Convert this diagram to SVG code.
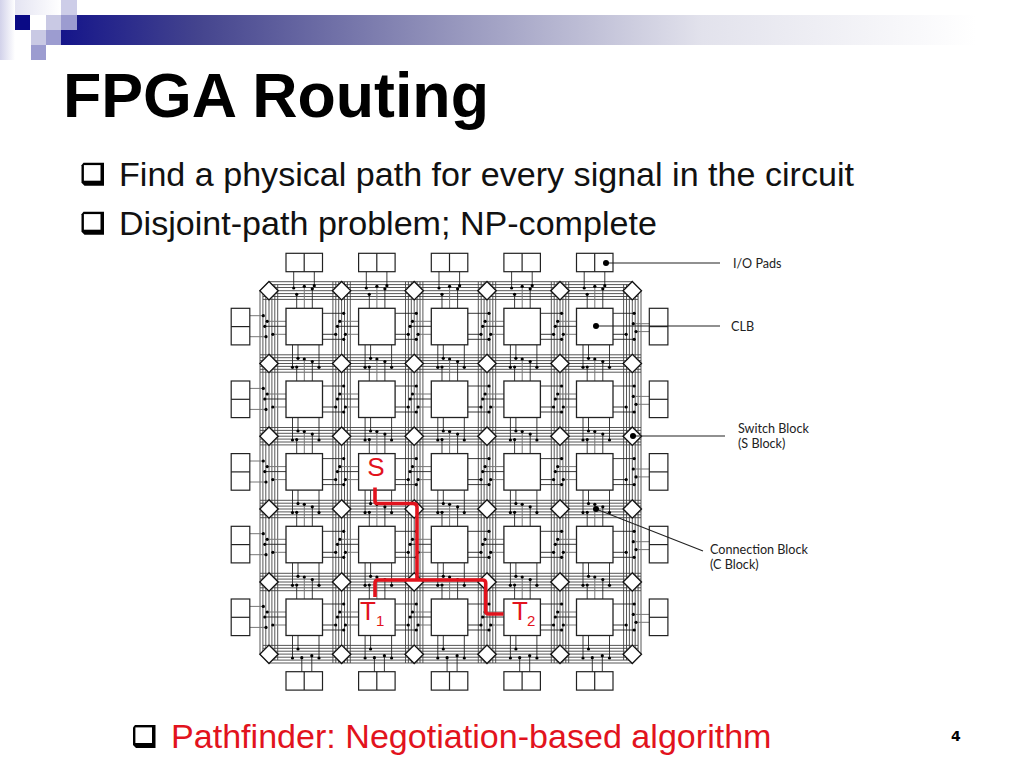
<svg xmlns="http://www.w3.org/2000/svg" width="1024" height="768" viewBox="0 0 1024 768">
<style>
text{font-family:"Liberation Sans",Arial,sans-serif}
.title{font-size:62.7px;font-weight:bold;fill:#000}
.body{font-size:34.1px;fill:#111}
.red{fill:#e2131d}
.lab{font-family:Lato,"Open Sans",sans-serif;font-size:12.6px;fill:#222}
.box{fill:#fff;stroke:#222;stroke-width:1.3}
.pad{fill:#fff;stroke:#222;stroke-width:1.2}
.dia{fill:#fff;stroke:#111;stroke-width:1.3}
.tr{fill:none;stroke:#444;stroke-width:.9}
.st{fill:none;stroke:#222;stroke-width:.9}
.gs{fill:none;stroke:#777;stroke-width:1}
.lead{fill:none;stroke:#222;stroke-width:1.1}
.route{fill:none;stroke:#e2131d;stroke-width:3.6;stroke-linejoin:round;stroke-linecap:butt}
</style>
<defs>
<linearGradient id="bar"><stop offset="0" stop-color="#15158a"/><stop offset=".15" stop-color="#44448e"/><stop offset=".4" stop-color="#8e8eb8"/><stop offset=".7" stop-color="#e2e2ec"/><stop offset="1" stop-color="#fff"/></linearGradient>
<linearGradient id="side" x1="0" y1="0" x2="1" y2="0"><stop offset="0" stop-color="#d2d2ea"/><stop offset="1" stop-color="#fff"/></linearGradient>
<linearGradient id="topf" x1="0" y1="0" x2="1" y2="0"><stop offset="0" stop-color="#e4e4f2"/><stop offset="1" stop-color="#fff"/></linearGradient>
<g id="bul"><path d="M0 2.5L2 0H22.5V23H3L0 20Z" fill="#000"/><rect x="2.4" y="2.4" width="16.6" height="15.6" fill="#fff"/></g>
<g id="hch" class="tr"><path d="M260 0H641M260 -8.7H641M260 -5.8H641M260 -2.9H641M260 2.9H641M260 5.8H641M260 8.7H641"/></g>
<g id="vch" class="tr"><path d="M0 281.7V663M-8.7 281.7V663M-5.8 281.7V663M-2.9 281.7V663M2.9 281.7V663M5.8 281.7V663M8.7 281.7V663"/></g>
<circle id="d" r="1.6" fill="#000"/>
<g id="stubs">
<path class="st" d="M10.7 0V-14M26.3 0V-19.5M6.5 36.5V59M12 36.5V50M33 36.5V59M36.5 5H57.7M36.5 31H57.7M36.5 26H49.7M0 18H-21.2"/>
<path class="gs" d="M18.3 0V-22M0 13H-18.8M0 26H-13.2"/>
<use href="#d" x="10.7" y="-14"/><use href="#d" x="18.3" y="-22"/><use href="#d" x="26.3" y="-19.5"/>
<use href="#d" x="6.5" y="59"/><use href="#d" x="12" y="50"/><use href="#d" x="33" y="59"/>
<use href="#d" x="57.7" y="5"/><use href="#d" x="57.7" y="31"/><use href="#d" x="49.7" y="26"/>
<use href="#d" x="-18.8" y="13"/><use href="#d" x="-21.2" y="18"/><use href="#d" x="-13.2" y="26"/>
</g>
<g id="pT" ><path class="st" d="M7.7 253.3V288M28.3 253.3V285.7"/><use href="#d" x="7.7" y="288"/><use href="#d" x="28.3" y="285.7"/></g>
<g id="pB"><path class="st" d="M15.8 672V657.7M25.8 672V655.7"/><use href="#d" x="15.8" y="657.7"/><use href="#d" x="25.8" y="655.7"/></g>
<g id="pL"><path class="gs" d="M250 7.4H263.3M250 28.4H266"/><use href="#d" x="263.3" y="7.4"/><use href="#d" x="266" y="28.4"/></g>
<g id="pR"><path class="gs" d="M650 15.4H633.3M650 23.3H636"/><use href="#d" x="633.3" y="15.4"/><use href="#d" x="636" y="23.3"/></g>
<rect id="clb" class="box" width="36.5" height="36.5"/>
<path id="dm" class="dia" d="M0 -9.2L9.2 0L0 9.2L-9.2 0Z"/>
<g id="ph"><rect class="pad" width="36.5" height="18.4"/><path class="pad" d="M18.2 0V18.4"/></g>
<g id="pv"><rect class="pad" width="18.6" height="36.6"/><path class="pad" d="M0 18.3H18.6"/></g>
</defs>
<rect width="1024" height="768" fill="#fff"/>
<g id="header">
<rect x="0" y="0" width="15" height="60" fill="url(#side)"/>
<rect x="15" y="0" width="46" height="15" fill="url(#topf)"/>
<rect x="61" y="15" width="915" height="30" fill="url(#bar)"/>
<rect x="15" y="15" width="15" height="15" fill="#0a0a85"/>
<rect x="46" y="15" width="15" height="15" fill="#c9c9e4"/>
<rect x="61" y="0" width="16" height="15" fill="#cdcde8"/>
<rect x="61" y="15" width="16" height="15" fill="#9c9cd0"/>
<rect x="31" y="30" width="15" height="15" fill="#c9c9e4"/>
<rect x="46" y="30" width="15" height="15" fill="#9c9cd0"/>
<rect x="31" y="45" width="15" height="15" fill="#9c9cd0"/>
</g>
<text class="title" x="63" y="117">FPGA Routing</text>
<use href="#bul" x="81.5" y="162.7"/>
<text class="body" x="119" y="186">Find a physical path for every signal in the circuit</text>
<use href="#bul" x="81.5" y="211.7"/>
<text class="body" x="119" y="235">Disjoint-path problem; NP-complete</text>
<g id="connectors">
<path class="tr" d="M269 281.7H632L641 290.7V654L632 663H269L260 654V290.7Z"/>
<path class="tr" d="M269 284.6H632L638.1 290.7V654L632 660.1H269L262.9 654V290.7Z"/>
<path class="tr" d="M269 287.5H632L635.2 290.7V654L632 657.2H269L265.8 654V290.7Z"/>
<path class="tr" d="M262.9 290.7H638.1M262.9 293.6H638.1M262.9 296.5H638.1M262.9 299.4H638.1M262.9 645.4H638.1M262.9 648.3H638.1M262.9 651.2H638.1M262.9 654.1H638.1"/>
<path class="tr" d="M269 284.6V660M271.9 284.6V660M274.8 284.6V660M277.7 284.6V660M623.6 284.6V660M626.5 284.6V660M629.4 284.6V660M632.3 284.6V660"/>
<use href="#hch" y="363.5"/><use href="#hch" y="436.2"/><use href="#hch" y="509"/><use href="#hch" y="582"/>
<use href="#vch" x="341.6"/><use href="#vch" x="414.2"/><use href="#vch" x="487"/><use href="#vch" x="560"/>
<use href="#stubs" x="286" y="308.3"/><use href="#stubs" x="358.6" y="308.3"/><use href="#stubs" x="431.3" y="308.3"/><use href="#stubs" x="503.9" y="308.3"/><use href="#stubs" x="576.5" y="308.3"/>
<use href="#stubs" x="286" y="381"/><use href="#stubs" x="358.6" y="381"/><use href="#stubs" x="431.3" y="381"/><use href="#stubs" x="503.9" y="381"/><use href="#stubs" x="576.5" y="381"/>
<use href="#stubs" x="286" y="453.6"/><use href="#stubs" x="358.6" y="453.6"/><use href="#stubs" x="431.3" y="453.6"/><use href="#stubs" x="503.9" y="453.6"/><use href="#stubs" x="576.5" y="453.6"/>
<use href="#stubs" x="286" y="526.3"/><use href="#stubs" x="358.6" y="526.3"/><use href="#stubs" x="431.3" y="526.3"/><use href="#stubs" x="503.9" y="526.3"/><use href="#stubs" x="576.5" y="526.3"/>
<use href="#stubs" x="286" y="599"/><use href="#stubs" x="358.6" y="599"/><use href="#stubs" x="431.3" y="599"/><use href="#stubs" x="503.9" y="599"/><use href="#stubs" x="576.5" y="599"/>
<use href="#pT" x="286"/><use href="#pT" x="358.6"/><use href="#pT" x="431.3"/><use href="#pT" x="503.9"/><use href="#pT" x="576.5"/>
<use href="#pB" x="286"/><use href="#pB" x="358.6"/><use href="#pB" x="431.3"/><use href="#pB" x="503.9"/><use href="#pB" x="576.5"/>
<use href="#pL" y="308.3"/><use href="#pL" y="381"/><use href="#pL" y="453.6"/><use href="#pL" y="526.3"/><use href="#pL" y="599"/>
<use href="#pR" y="308.3"/><use href="#pR" y="381"/><use href="#pR" y="453.6"/><use href="#pR" y="526.3"/><use href="#pR" y="599"/>
</g>
<g id="clbs">
<g id="clb-1-1"><use href="#clb" x="286" y="308.3"/></g><g id="clb-1-2"><use href="#clb" x="358.6" y="308.3"/></g><g id="clb-1-3"><use href="#clb" x="431.3" y="308.3"/></g><g id="clb-1-4"><use href="#clb" x="503.9" y="308.3"/></g><g id="clb-1-5"><use href="#clb" x="576.5" y="308.3"/></g>
<g id="clb-2-1"><use href="#clb" x="286" y="381"/></g><g id="clb-2-2"><use href="#clb" x="358.6" y="381"/></g><g id="clb-2-3"><use href="#clb" x="431.3" y="381"/></g><g id="clb-2-4"><use href="#clb" x="503.9" y="381"/></g><g id="clb-2-5"><use href="#clb" x="576.5" y="381"/></g>
<g id="clb-3-1"><use href="#clb" x="286" y="453.6"/></g><g id="clb-3-2"><use href="#clb" x="358.6" y="453.6"/></g><g id="clb-3-3"><use href="#clb" x="431.3" y="453.6"/></g><g id="clb-3-4"><use href="#clb" x="503.9" y="453.6"/></g><g id="clb-3-5"><use href="#clb" x="576.5" y="453.6"/></g>
<g id="clb-4-1"><use href="#clb" x="286" y="526.3"/></g><g id="clb-4-2"><use href="#clb" x="358.6" y="526.3"/></g><g id="clb-4-3"><use href="#clb" x="431.3" y="526.3"/></g><g id="clb-4-4"><use href="#clb" x="503.9" y="526.3"/></g><g id="clb-4-5"><use href="#clb" x="576.5" y="526.3"/></g>
<g id="clb-5-1"><use href="#clb" x="286" y="599"/></g><g id="clb-5-2"><use href="#clb" x="358.6" y="599"/></g><g id="clb-5-3"><use href="#clb" x="431.3" y="599"/></g><g id="clb-5-4"><use href="#clb" x="503.9" y="599"/></g><g id="clb-5-5"><use href="#clb" x="576.5" y="599"/></g>
</g>
<g id="switches">
<g id="sw-1-1"><use href="#dm" x="269" y="290.7"/></g><g id="sw-1-2"><use href="#dm" x="341.6" y="290.7"/></g><g id="sw-1-3"><use href="#dm" x="414.2" y="290.7"/></g><g id="sw-1-4"><use href="#dm" x="487" y="290.7"/></g><g id="sw-1-5"><use href="#dm" x="560" y="290.7"/></g><g id="sw-1-6"><use href="#dm" x="632.3" y="290.7"/></g>
<g id="sw-2-1"><use href="#dm" x="269" y="363.5"/></g><g id="sw-2-2"><use href="#dm" x="341.6" y="363.5"/></g><g id="sw-2-3"><use href="#dm" x="414.2" y="363.5"/></g><g id="sw-2-4"><use href="#dm" x="487" y="363.5"/></g><g id="sw-2-5"><use href="#dm" x="560" y="363.5"/></g><g id="sw-2-6"><use href="#dm" x="632.3" y="363.5"/></g>
<g id="sw-3-1"><use href="#dm" x="269" y="436.2"/></g><g id="sw-3-2"><use href="#dm" x="341.6" y="436.2"/></g><g id="sw-3-3"><use href="#dm" x="414.2" y="436.2"/></g><g id="sw-3-4"><use href="#dm" x="487" y="436.2"/></g><g id="sw-3-5"><use href="#dm" x="560" y="436.2"/></g><g id="sw-3-6"><use href="#dm" x="632.3" y="436.2"/></g>
<g id="sw-4-1"><use href="#dm" x="269" y="509"/></g><g id="sw-4-2"><use href="#dm" x="341.6" y="509"/></g><g id="sw-4-3"><use href="#dm" x="414.2" y="509"/></g><g id="sw-4-4"><use href="#dm" x="487" y="509"/></g><g id="sw-4-5"><use href="#dm" x="560" y="509"/></g><g id="sw-4-6"><use href="#dm" x="632.3" y="509"/></g>
<g id="sw-5-1"><use href="#dm" x="269" y="582"/></g><g id="sw-5-2"><use href="#dm" x="341.6" y="582"/></g><g id="sw-5-3"><use href="#dm" x="414.2" y="582"/></g><g id="sw-5-4"><use href="#dm" x="487" y="582"/></g><g id="sw-5-5"><use href="#dm" x="560" y="582"/></g><g id="sw-5-6"><use href="#dm" x="632.3" y="582"/></g>
<g id="sw-6-1"><use href="#dm" x="269" y="654.3"/></g><g id="sw-6-2"><use href="#dm" x="341.6" y="654.3"/></g><g id="sw-6-3"><use href="#dm" x="414.2" y="654.3"/></g><g id="sw-6-4"><use href="#dm" x="487" y="654.3"/></g><g id="sw-6-5"><use href="#dm" x="560" y="654.3"/></g><g id="sw-6-6"><use href="#dm" x="632.3" y="654.3"/></g>
</g>
<g id="pads">
<g id="pad-t1"><use href="#ph" x="286" y="253.3"/></g><g id="pad-t2"><use href="#ph" x="358.6" y="253.3"/></g><g id="pad-t3"><use href="#ph" x="431.3" y="253.3"/></g><g id="pad-t4"><use href="#ph" x="503.9" y="253.3"/></g><g id="pad-t5"><use href="#ph" x="576.5" y="253.3"/></g>
<g id="pad-b1"><use href="#ph" x="286" y="671.7"/></g><g id="pad-b2"><use href="#ph" x="358.6" y="671.7"/></g><g id="pad-b3"><use href="#ph" x="431.3" y="671.7"/></g><g id="pad-b4"><use href="#ph" x="503.9" y="671.7"/></g><g id="pad-b5"><use href="#ph" x="576.5" y="671.7"/></g>
<g id="pad-l1"><use href="#pv" x="231.2" y="308.3"/></g><g id="pad-l2"><use href="#pv" x="231.2" y="381"/></g><g id="pad-l3"><use href="#pv" x="231.2" y="453.6"/></g><g id="pad-l4"><use href="#pv" x="231.2" y="526.3"/></g><g id="pad-l5"><use href="#pv" x="231.2" y="599"/></g>
<g id="pad-r1"><use href="#pv" x="649.3" y="308.3"/></g><g id="pad-r2"><use href="#pv" x="649.3" y="381"/></g><g id="pad-r3"><use href="#pv" x="649.3" y="453.6"/></g><g id="pad-r4"><use href="#pv" x="649.3" y="526.3"/></g><g id="pad-r5"><use href="#pv" x="649.3" y="599"/></g>
</g>
<g id="leaders">
<path class="lead" d="M606 263H720M596 326H720M633 436H725M596 509L703 551"/>
<circle cx="606" cy="263" r="3" fill="#000"/><circle cx="596" cy="326" r="3" fill="#000"/><circle cx="633" cy="436" r="3" fill="#000"/><circle cx="596" cy="509" r="3" fill="#000"/>
</g>
<g id="route">
<path class="route" d="M375 487.5V501Q375 503.5 377.5 503.5H413Q417 503.5 417 507V580"/>
<path class="route" d="M375 597V583Q375 580 378 580H482.5Q485.7 580 485.7 583V611Q485.7 614 488.7 614H503.5"/>
</g>
<text class="red" x="376" y="476" font-size="26" text-anchor="middle">S</text>
<text class="red" x="360" y="620" font-size="26">T</text><text class="red" x="376" y="626" font-size="15">1</text>
<text class="red" x="512" y="620" font-size="26">T</text><text class="red" x="527" y="626" font-size="15">2</text>
<text class="lab" x="733" y="268">I/O Pads</text>
<text class="lab" x="731" y="331">CLB</text>
<text class="lab" x="738" y="433">Switch Block</text>
<text class="lab" x="738" y="448">(S Block)</text>
<text class="lab" x="710" y="554">Connection Block</text>
<text class="lab" x="710" y="569">(C Block)</text>
<use href="#bul" x="133" y="725"/>
<text class="body red" x="171" y="748">Pathfinder: Negotiation-based algorithm</text>
<text x="951" y="741" font-size="14" font-weight="bold" style="font-family:'DejaVu Sans',sans-serif">4</text>
</svg>
